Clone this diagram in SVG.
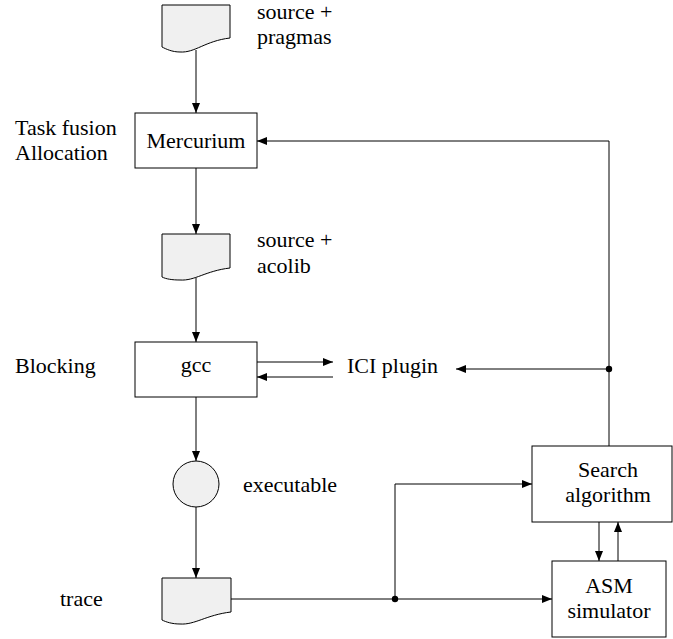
<svg xmlns="http://www.w3.org/2000/svg" width="673" height="639" viewBox="0 0 673 639" font-family="'Liberation Serif', 'Times New Roman', 'DejaVu Serif', serif" font-size="22">
<style>
text{fill:#000}
.c{text-anchor:middle}
.box{fill:#fff;stroke:#000;stroke-width:1}
.doc{fill:#f0f0f0;stroke:#000;stroke-width:1}
.ln{fill:none;stroke:#000;stroke-width:1}
</style>
<defs>
<marker id="ah" viewBox="0 0 10 8" refX="10" refY="4" markerWidth="10" markerHeight="8" markerUnits="userSpaceOnUse" orient="auto">
<path d="M0,0 L10,4 L0,8 Z" fill="#000"/>
</marker>
</defs>
<g id="connectors">
<path class="ln" d="M196,50 V113" marker-end="url(#ah)"/>
<path class="ln" d="M196,168 V234" marker-end="url(#ah)"/>
<path class="ln" d="M196,278 V342" marker-end="url(#ah)"/>
<path class="ln" d="M196,397 V461" marker-end="url(#ah)"/>
<path class="ln" d="M196,507 V578" marker-end="url(#ah)"/>
<path class="ln" d="M257,362 H333" marker-end="url(#ah)"/>
<path class="ln" d="M333,377 H257" marker-end="url(#ah)"/>
<path class="ln" d="M609,369 H456" marker-end="url(#ah)"/>
<path class="ln" d="M609,446 V141 H257" marker-end="url(#ah)"/>
<path class="ln" d="M231,599 H552" marker-end="url(#ah)"/>
<path class="ln" d="M395,599 V484 H532" marker-end="url(#ah)"/>
<path class="ln" d="M599,522 V561" marker-end="url(#ah)"/>
<path class="ln" d="M618,561 V522" marker-end="url(#ah)"/>
<circle cx="609" cy="369" r="3.2" fill="#000"/>
<circle cx="395" cy="599" r="3.2" fill="#000"/>
</g>
<g id="src1">
<path class="doc" d="M162,5 H230 V38 C205,41 195,53 180,52 C172,52 166,49 162,47 Z"/>
<text x="257" y="19">source +</text>
<text x="257" y="44">pragmas</text>
</g>
<g id="mercurium">
<rect class="box" x="135" y="113" width="122" height="55"/>
<text class="c" x="196" y="148">Mercurium</text>
<text x="15" y="135">Task fusion</text>
<text x="15" y="160">Allocation</text>
</g>
<g id="src2">
<path class="doc" d="M162,234 H230 V268 C205,271 195,281 180,280 C172,280 166,279 162,277 Z"/>
<text x="257" y="247">source +</text>
<text x="257" y="273">acolib</text>
</g>
<g id="gcc">
<rect class="box" x="135" y="342" width="122" height="55"/>
<text class="c" x="196" y="372">gcc</text>
<text x="15" y="373">Blocking</text>
</g>
<g id="ici">
<text x="347" y="373">ICI plugin</text>
</g>
<g id="executable">
<circle class="doc" cx="196" cy="484" r="23"/>
<text x="243" y="492">executable</text>
</g>
<g id="trace">
<path class="doc" d="M162,578 H231 V612 C206,615 195,625 180,624 C172,624 166,622 162,620 Z"/>
<text x="60" y="606">trace</text>
</g>
<g id="search">
<rect class="box" x="532" y="446" width="140" height="76"/>
<text class="c" x="608" y="477">Search</text>
<text class="c" x="608" y="502">algorithm</text>
</g>
<g id="asm">
<rect class="box" x="552" y="561" width="114" height="76"/>
<text class="c" x="609" y="593">ASM</text>
<text class="c" x="609" y="618">simulator</text>
</g>
</svg>
